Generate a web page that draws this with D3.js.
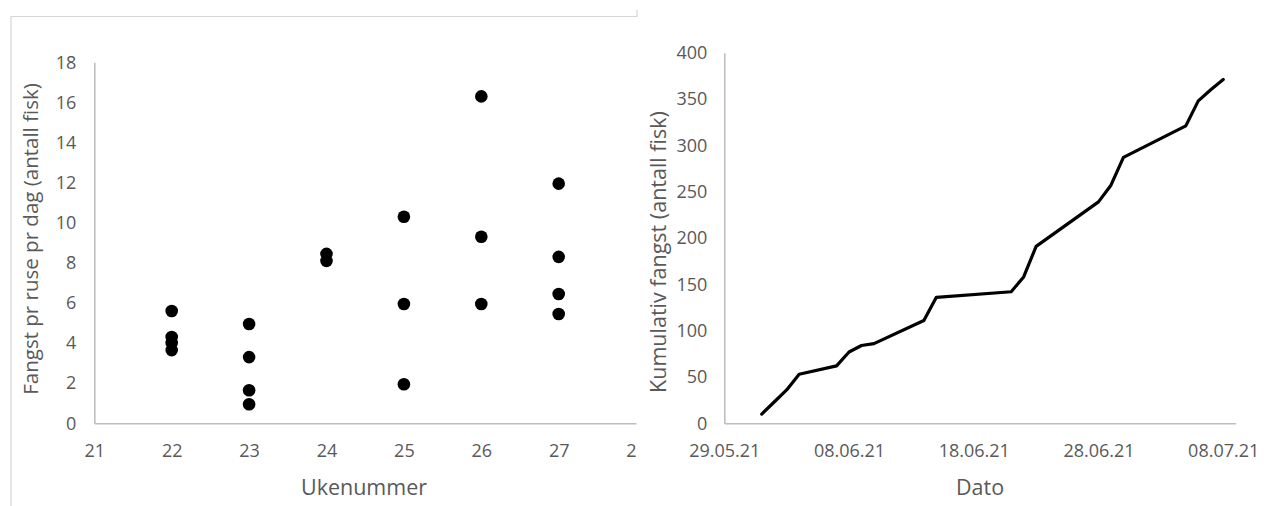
<!DOCTYPE html>
<html>
<head>
<meta charset="utf-8">
<script src="https://cdn.jsdelivr.net/npm/d3@7"></script>
<style>
  html, body { margin: 0; padding: 0; background: #fff; }
  svg { display: block; }
  text { font-family: "Open Sans", sans-serif; fill: #595959; }
</style>
</head>
<body>
<svg id="chart" width="1264" height="506"></svg>
<script>
// ---- Left panel data: catch per trap per day by week number ----
const weekNumbers = [22, 22, 22, 22, 23, 23, 23, 23, 24, 24, 25, 25, 25, 26, 26, 26, 27, 27, 27, 27];
const catchPerTrap = [5.6, 4.3, 4.0, 3.65, 4.95, 3.3, 1.65, 0.95, 8.45, 8.1, 10.3, 5.95, 1.95, 16.3, 9.3, 5.95, 11.95, 8.3, 6.45, 5.45];
const weekTicks = [21, 22, 23, 24, 25, 26, 27, 28];
const catchTicks = [0, 2, 4, 6, 8, 10, 12, 14, 16, 18];

// ---- Right panel data: cumulative catch by date ----
const dates = ["2021-06-01", "2021-06-02", "2021-06-03", "2021-06-04", "2021-06-07", "2021-06-08",
               "2021-06-09", "2021-06-10", "2021-06-14", "2021-06-15", "2021-06-21", "2021-06-22",
               "2021-06-23", "2021-06-28", "2021-06-29", "2021-06-30", "2021-07-05", "2021-07-06",
               "2021-07-07", "2021-07-08"];
const cumulative = [10, 23, 36, 53, 62, 77, 84, 86, 111, 136, 142, 158, 191, 239, 257, 287, 321, 348, 360, 371];
const cumTicks = [0, 50, 100, 150, 200, 250, 300, 350, 400];
const dateTickLabels = ["29.05.21", "08.06.21", "18.06.21", "28.06.21", "08.07.21"];

const svg = d3.select("#chart");
const axisColor = "#bfbfbf";
const parse = d3.timeParse("%Y-%m-%d");
const parseLbl = d3.timeParse("%d.%m.%y");

// frame remnants
svg.append("path").attr("d", "M11,506 V16.5 H637 V10")
  .attr("fill", "none").attr("stroke", "#d6d6d6").attr("stroke-width", 1.2);

// ================= LEFT PANEL =================
svg.append("defs").append("clipPath").attr("id", "leftClip")
  .append("rect").attr("x", 0).attr("y", 0).attr("width", 637).attr("height", 506);
const L = svg.append("g").attr("clip-path", "url(#leftClip)");

const xL = d3.scaleLinear().domain([21, 28]).range([94.3, 636.1]);
const yL = d3.scaleLinear().domain([0, 18]).range([423.3, 62.3]);

const axL = L.append("g").attr("transform", `translate(0,${yL(0)})`)
  .call(d3.axisBottom(xL).tickValues(weekTicks).tickSize(0).tickPadding(21).tickFormat(d3.format("d")));
axL.select(".domain").attr("stroke", axisColor).attr("stroke-width", 1.6);
axL.selectAll("text").attr("font-size", 18).attr("fill", "#595959").attr("font-family", "Open Sans");

const ayL = L.append("g").attr("transform", `translate(${xL(21)},0)`)
  .call(d3.axisLeft(yL).tickValues(catchTicks).tickSize(0).tickPadding(18));
ayL.select(".domain").attr("stroke", axisColor).attr("stroke-width", 1.6);
ayL.selectAll("text").attr("font-size", 18).attr("fill", "#595959").attr("font-family", "Open Sans");

L.append("g").selectAll("circle")
  .data(weekNumbers.map((w, i) => ({ w, v: catchPerTrap[i] })))
  .join("circle")
  .attr("cx", d => xL(d.w)).attr("cy", d => yL(d.v)).attr("r", 6.3).attr("fill", "#000");

L.append("text").attr("x", 364).attr("y", 495).attr("text-anchor", "middle")
  .attr("font-size", 21.5).text("Ukenummer");
L.append("text").attr("transform", "translate(38,239) rotate(-90)").attr("text-anchor", "middle")
  .attr("font-size", 20.5).text("Fangst pr ruse pr dag (antall fisk)");

// ================= RIGHT PANEL =================
const xR = d3.scaleTime().domain([parse("2021-05-29"), parse("2021-07-09")]).range([724.3, 1235.7]);
const yR = d3.scaleLinear().domain([0, 400]).range([423.3, 52.7]);

const axR = svg.append("g").attr("transform", `translate(0,${yR(0)})`)
  .call(d3.axisBottom(xR).tickValues(dateTickLabels.map(parseLbl)).tickSize(0).tickPadding(21)
    .tickFormat(d3.timeFormat("%d.%m.%y")));
axR.select(".domain").attr("stroke", axisColor).attr("stroke-width", 1.6);
axR.selectAll("text").attr("font-size", 18).attr("fill", "#595959").attr("font-family", "Open Sans");

const ayR = svg.append("g").attr("transform", `translate(${xR.range()[0]},0)`)
  .call(d3.axisLeft(yR).tickValues(cumTicks).tickSize(0).tickPadding(17));
ayR.select(".domain").attr("stroke", axisColor).attr("stroke-width", 1.6);
ayR.selectAll("text").attr("font-size", 18).attr("fill", "#595959").attr("font-family", "Open Sans");

const lineData = dates.map((d, i) => ({ d: parse(d), v: cumulative[i] }));
svg.append("path").datum(lineData)
  .attr("fill", "none").attr("stroke", "#000").attr("stroke-width", 3.2)
  .attr("stroke-linejoin", "round").attr("stroke-linecap", "round")
  .attr("d", d3.line().x(d => xR(d.d)).y(d => yR(d.v)));

svg.append("text").attr("x", 980).attr("y", 495).attr("text-anchor", "middle")
  .attr("font-size", 21.5).text("Dato");
svg.append("text").attr("transform", "translate(666,252) rotate(-90)").attr("text-anchor", "middle")
  .attr("font-size", 21.5).text("Kumulativ fangst (antall fisk)");
</script>
</body>
</html>
